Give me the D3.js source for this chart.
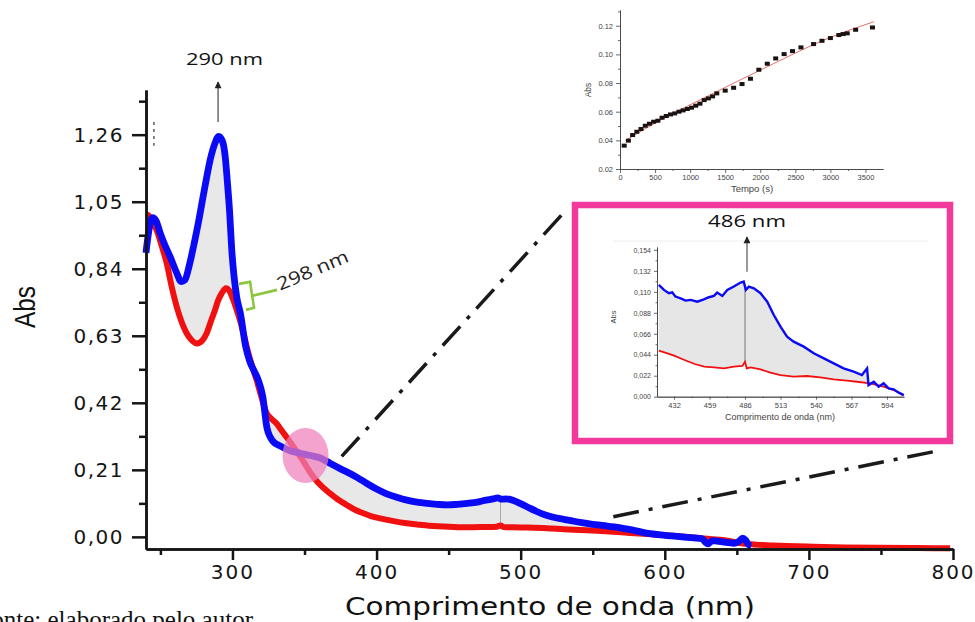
<!DOCTYPE html>
<html lang="pt">
<head>
<meta charset="UTF-8">
<title>Espectro UV-Vis</title>
<script src="https://cdn.jsdelivr.net/npm/d3@7"></script>
<style>
  body { margin: 0; background: #fff; }
  svg { display: block; }
</style>
</head>
<body>
<div id="chart"></div>
<script>

// ---- main spectrum (nm, Abs) ----
var blueWl = [240,242,244.5,247,250,253,257,261,264.5,267,270,273,277,281,285,288,290.5,293,295,296.5,298,299.5,301,303,305.5,309,312,315,318,321,324,328,333,340,347,354,361,368,375,380,387,393,400,407,414,421,428,435,442,449,456,463,470,476,481,484,487,490,495,500,505,510,515,522,530,537,545,552,560,565,572,578,584,590,597,605,612,620,626,628,630,633,640,648,652,654,656,658,660];
var blueAbs = [0.89,0.96,1.00,0.99,0.95,0.915,0.875,0.83,0.80,0.805,0.85,0.91,1.00,1.10,1.19,1.235,1.255,1.24,1.19,1.11,1.02,0.90,0.82,0.75,0.70,0.60,0.55,0.52,0.49,0.44,0.34,0.30,0.285,0.27,0.262,0.255,0.247,0.23,0.213,0.202,0.185,0.168,0.150,0.135,0.124,0.115,0.109,0.105,0.102,0.100,0.102,0.105,0.109,0.115,0.119,0.122,0.118,0.119,0.114,0.104,0.093,0.082,0.072,0.062,0.055,0.049,0.043,0.038,0.034,0.031,0.026,0.021,0.015,0.010,0.006,0.003,0.000,-0.003,-0.006,-0.016,-0.022,-0.012,-0.016,-0.020,-0.012,-0.004,-0.010,-0.024,-0.028];
var redWl = [240,241.6,244,247.4,251,254.4,258,261.3,265,268.2,272,275.2,279,282.1,285,287.9,290,292.5,295.5,298,300.6,303,305.2,307.5,309.9,312,314.5,316.8,320,323.8,327,330.7,333,338,343,348,356.1,362,367.7,373,379.3,385,390.8,396,402.4,411,420.9,430,439.4,450,462.6,475,483.4,486,488,494.9,505,518,530,541.2,553,564.3,576,587.5,600,612,625,640,657,675,703,725,749,775,798];
var redAbs = [1.01,1.008,0.99,0.961,0.91,0.857,0.78,0.721,0.67,0.638,0.615,0.606,0.615,0.638,0.675,0.711,0.74,0.763,0.779,0.77,0.742,0.71,0.679,0.64,0.596,0.56,0.523,0.491,0.44,0.387,0.37,0.355,0.34,0.31,0.278,0.245,0.188,0.158,0.1365,0.118,0.100,0.085,0.0738,0.065,0.058,0.050,0.0425,0.038,0.034,0.032,0.030,0.031,0.032,0.036,0.031,0.030,0.029,0.027,0.024,0.0215,0.019,0.016,0.012,0.009,0.005,0.001,-0.004,-0.010,-0.022,-0.027,-0.031,-0.033,-0.034,-0.035,-0.036];

// ---- zoomed spectrum 420-607 nm ----
var zBlueWl = [420.4,424.3,428,430.6,433,437,440.8,444.6,449.6,454.7,458.5,462.3,464.8,468.7,472.5,477.5,482.6,485,486.6,488.9,492.7,497.8,502.9,507.9,513,518,523,530.7,538.3,546,553.5,561,568.7,575,578.9,580,584,587.7,591.5,595.3,599.1,603,606.8];
var zBlueAbs = [0.1172,0.112,0.1085,0.1095,0.105,0.1032,0.1008,0.1015,0.0997,0.102,0.1043,0.1057,0.1092,0.1057,0.112,0.1155,0.1197,0.1207,0.112,0.1155,0.1137,0.1085,0.0997,0.0857,0.0735,0.063,0.0577,0.0525,0.0455,0.0402,0.035,0.0297,0.0262,0.0227,0.0297,0.0122,0.0157,0.0105,0.014,0.0087,0.0077,0.0042,0.0017];
var zRedWl = [420.4,427,432,440,447.7,455,462.3,470,477.5,484,486,487.3,490.3,497.8,505.4,513,523,533.2,543.3,553.5,563.6,571.2,581.3,591.5,599.1,606.8];
var zRedAbs = [0.0483,0.0455,0.043,0.0385,0.0343,0.0315,0.0308,0.0297,0.0315,0.0322,0.0367,0.0297,0.0308,0.0287,0.0252,0.0227,0.021,0.0217,0.0203,0.0182,0.0168,0.0157,0.014,0.0105,0.007,0.0017];

// ---- kinetics at 486 nm ----
var kinT = [60,120,180,240,300,360,420,480,540,600,660,720,780,840,900,960,1020,1080,1140,1200,1260,1320,1380,1500,1620,1740,1860,1980,2100,2220,2340,2460,2580,2760,2880,3000,3120,3180,3240,3360,3600];
var kinAbs = [0.0363,0.0398,0.0437,0.046,0.0479,0.0502,0.0516,0.053,0.0537,0.0558,0.057,0.0581,0.0588,0.060,0.0609,0.0619,0.0628,0.0642,0.0656,0.0681,0.0693,0.0707,0.0728,0.0747,0.0767,0.0793,0.083,0.0893,0.0935,0.0972,0.1002,0.1023,0.1049,0.1072,0.1095,0.1114,0.1135,0.1142,0.1147,0.1172,0.1188];
var fitT = [80,560,1280,2000,3000,3620];
var fitAbs = [0.040,0.0537,0.0716,0.089,0.1119,0.1228];

// ---- ticks ----
var mainYTicks = [0,0.21,0.42,0.63,0.84,1.05,1.26];
var mainYMinor = [0.105,0.315,0.525,0.735,0.945,1.155,1.365];
var mainXTicks = [300,400,500,600,700,800];
var mainXMinor = [250,350,450,550,650,750];
var kinYTicks = [0.02,0.04,0.06,0.08,0.10,0.12];
var kinYMinor = [0.03,0.05,0.07,0.09,0.11,0.13];
var kinXTicks = [0,500,1000,1500,2000,2500,3000,3500];
var kinXMinor = [250,750,1250,1750,2250,2750,3250];
var zYTicks = [0,0.022,0.044,0.066,0.088,0.110,0.132,0.154];
var zYMinor = [0.011,0.033,0.055,0.077,0.099,0.121,0.143];
var zXTicks = [432,459,486,513,540,567,594];
var zXMinor = [445.5,472.5,499.5,526.5,553.5,580.5];

var zip = function(a, b) { return a.map(function(v, i) { return [v, b[i]]; }); };
var comma = d3.formatLocale({decimal: ",", thousands: ".", grouping: [3], currency: ["", ""]});

var svg = d3.select("#chart").append("svg")
    .attr("width", 975)
    .attr("height", 622);

// arrow head: points along the line direction
svg.append("defs").append("marker")
    .attr("id", "arr")
    .attr("viewBox", "0 0 10 10")
    .attr("refX", 9).attr("refY", 5)
    .attr("markerWidth", 8).attr("markerHeight", 7)
    .attr("markerUnits", "userSpaceOnUse")
    .attr("orient", "auto")
  .append("path")
    .attr("d", "M0,0 L10,5 L0,10 Z")
    .attr("fill", "#222");

function styleAxis(g, color, sw, size, family) {
  g.attr("font-size", size).attr("font-family", family);
  g.select(".domain").attr("stroke", color).attr("stroke-width", sw);
  g.selectAll(".tick line").attr("stroke", color).attr("stroke-width", sw);
  g.selectAll(".tick text").attr("fill", color);
}

// ================= main chart =================
var x = d3.scaleLinear().domain([240, 800]).range([146, 953]);
var y = d3.scaleLinear().domain([-0.038, 1.40]).range([549, 90]);

var blue = zip(blueWl, blueAbs);
var red = zip(redWl, redAbs);
var mainLine = d3.line().x(function(d) { return x(d[0]); }).y(function(d) { return y(d[1]); }).curve(d3.curveMonotoneX);
var flatLine = d3.line().x(function(d) { return x(d[0]); }).y(function(d) { return y(d[1]); });

// grey band of intermediate spectra
var band = blue.concat(red.filter(function(d) { return d[0] <= 660; }).reverse());
svg.append("path")
    .attr("d", flatLine(band) + "Z")
    .attr("fill", "#e8e8e8")
    .attr("stroke", "none");
svg.append("line")
    .attr("x1", x(486)).attr("x2", x(486))
    .attr("y1", y(0.036)).attr("y2", y(0.118))
    .attr("stroke", "#999").attr("stroke-width", 0.8);

svg.append("path")
    .attr("d", mainLine(red))
    .attr("fill", "none")
    .attr("stroke", "#f01010")
    .attr("stroke-width", 6)
    .attr("stroke-linejoin", "round");

svg.append("path")
    .attr("d", mainLine(blue))
    .attr("fill", "none")
    .attr("stroke", "#0a0af5")
    .attr("stroke-width", 6.8)
    .attr("stroke-linejoin", "round");

// pink highlight circle
svg.append("ellipse")
    .attr("cx", x(350.7)).attr("cy", y(0.255))
    .attr("rx", 23).attr("ry", 27.5)
    .attr("fill", "#ef7fba")
    .attr("opacity", 0.72);

// axes
var gy = svg.append("g").attr("transform", "translate(146,0)")
    .call(d3.axisLeft(y).tickValues(mainYTicks).tickSize(14).tickSizeOuter(0).tickPadding(8)
      .tickFormat(comma.format(".2f")));
styleAxis(gy, "#151515", 2.5, 20, "DejaVu Sans");
gy.selectAll(".tick text").attr("letter-spacing", "1.5px");
var gy2 = svg.append("g").attr("transform", "translate(146,0)")
    .call(d3.axisLeft(y).tickValues(mainYMinor).tickSize(7).tickSizeOuter(0).tickFormat(""));
styleAxis(gy2, "#151515", 2.5, 20, "DejaVu Sans");

var gx = svg.append("g").attr("transform", "translate(0,549)")
    .call(d3.axisBottom(x).tickValues(mainXTicks).tickSize(11).tickSizeOuter(0).tickPadding(5)
      .tickFormat(d3.format("d")));
styleAxis(gx, "#151515", 2.5, 20, "DejaVu Sans");
gx.selectAll(".tick text").attr("letter-spacing", "2px");
var gx2 = svg.append("g").attr("transform", "translate(0,549)")
    .call(d3.axisBottom(x).tickValues(mainXMinor).tickSize(6).tickSizeOuter(0).tickFormat(""));
styleAxis(gx2, "#151515", 2.5, 20, "DejaVu Sans");

svg.append("text")
    .attr("transform", "translate(35,307) rotate(-90)")
    .attr("text-anchor", "middle")
    .attr("font-family", "Liberation Sans")
    .attr("font-size", 30)
    .attr("textLength", 42)
    .attr("lengthAdjust", "spacingAndGlyphs")
    .attr("fill", "#111")
    .text("Abs");

svg.append("text")
    .attr("x", 345).attr("y", 615)
    .attr("font-family", "DejaVu Sans")
    .attr("font-size", 24)
    .attr("textLength", 410)
    .attr("lengthAdjust", "spacingAndGlyphs")
    .attr("fill", "#111")
    .text("Comprimento de onda (nm)");

// small dotted mark near the left edge
svg.append("line")
    .attr("x1", x(245.5)).attr("x2", x(245.5))
    .attr("y1", y(1.30)).attr("y2", y(1.225))
    .attr("stroke", "#666").attr("stroke-width", 1.6)
    .attr("stroke-dasharray", "3,4");

// 290 nm annotation
svg.append("line")
    .attr("x1", x(290)).attr("x2", x(290))
    .attr("y1", y(1.30)).attr("y2", y(1.425))
    .attr("stroke", "#333").attr("stroke-width", 1.1)
    .attr("marker-end", "url(#arr)");
svg.append("text")
    .attr("x", 186).attr("y", 65)
    .attr("font-family", "Open Sans")
    .attr("font-size", 17)
    .attr("textLength", 77)
    .attr("lengthAdjust", "spacingAndGlyphs")
    .attr("fill", "#111")
    .text("290 nm");

// 298 nm bracket
var bx = x(312.2), by = y(0.755);
svg.append("path")
    .attr("d", "M" + (bx - 11) + "," + (by - 12) + " L" + bx + "," + (by - 14) +
               " L" + (bx + 4) + "," + (by + 12) + " L" + (bx - 4) + "," + (by + 14) +
               " M" + (bx + 2) + "," + by + " L" + (bx + 27) + "," + (by - 6))
    .attr("fill", "none")
    .attr("stroke", "#8dc63f")
    .attr("stroke-width", 2.6);
svg.append("text")
    .attr("transform", "translate(315,276) rotate(-23)")
    .attr("text-anchor", "middle")
    .attr("font-family", "Open Sans")
    .attr("font-size", 18)
    .attr("textLength", 76)
    .attr("lengthAdjust", "spacingAndGlyphs")
    .attr("fill", "#222")
    .text("298 nm");

// dash-dot leader lines
var dash = "26,10,4,10";
svg.append("line")
    .attr("x1", x(375.8)).attr("y1", y(0.252))
    .attr("x2", 568).attr("y2", 208)
    .attr("stroke", "#1a1a1a").attr("stroke-width", 3.5)
    .attr("stroke-dasharray", dash);
svg.append("line")
    .attr("x1", x(564.3)).attr("y1", y(0.063))
    .attr("x2", 942).attr("y2", 450)
    .attr("stroke", "#1a1a1a").attr("stroke-width", 3.5)
    .attr("stroke-dasharray", dash);

// ================= zoom inset (pink frame) =================
svg.append("rect")
    .attr("x", 575).attr("y", 205)
    .attr("width", 375).attr("height", 236)
    .attr("fill", "#fff")
    .attr("stroke", "#f33a9c")
    .attr("stroke-width", 6.5);

var xZ = d3.scaleLinear().domain([419, 607]).range([657, 904]);
var yZ = d3.scaleLinear().domain([0, 0.157]).range([396.7, 247]);
var zLine = d3.line().x(function(d) { return xZ(d[0]); }).y(function(d) { return yZ(d[1]); });
var zb = zip(zBlueWl, zBlueAbs);
var zr = zip(zRedWl, zRedAbs);

svg.append("line")
    .attr("x1", 613).attr("x2", 928).attr("y1", 241).attr("y2", 241)
    .attr("stroke", "#eeeeee").attr("stroke-width", 1);

svg.append("path")
    .attr("d", zLine(zb.concat(zr.slice().reverse())) + "Z")
    .attr("fill", "#e6e6e6");
svg.append("line")
    .attr("x1", xZ(486)).attr("x2", xZ(486))
    .attr("y1", yZ(0.0367)).attr("y2", yZ(0.118))
    .attr("stroke", "#777").attr("stroke-width", 1);
svg.append("path")
    .attr("d", zLine(zr))
    .attr("fill", "none").attr("stroke", "#f01010").attr("stroke-width", 1.8);
svg.append("path")
    .attr("d", zLine(zb))
    .attr("fill", "none").attr("stroke", "#0a0af5").attr("stroke-width", 2.4);

var gzy = svg.append("g").attr("transform", "translate(657,0)")
    .call(d3.axisLeft(yZ).tickValues(zYTicks).tickSize(3).tickSizeOuter(0).tickPadding(3)
      .tickFormat(comma.format(".3f")));
styleAxis(gzy, "#444", 0.8, 7, "Liberation Sans");
var gzy2 = svg.append("g").attr("transform", "translate(657,0)")
    .call(d3.axisLeft(yZ).tickValues(zYMinor).tickSize(1.5).tickSizeOuter(0).tickFormat(""));
styleAxis(gzy2, "#444", 0.8, 7, "Liberation Sans");
var gzx = svg.append("g").attr("transform", "translate(0,396.7)")
    .call(d3.axisBottom(xZ).tickValues(zXTicks).tickSize(3).tickSizeOuter(0).tickPadding(3)
      .tickFormat(d3.format("d")));
styleAxis(gzx, "#444", 0.8, 7.5, "Liberation Sans");
var gzx2 = svg.append("g").attr("transform", "translate(0,396.7)")
    .call(d3.axisBottom(xZ).tickValues(zXMinor).tickSize(1.5).tickSizeOuter(0).tickFormat(""));
styleAxis(gzx2, "#444", 0.8, 7.5, "Liberation Sans");

svg.append("text")
    .attr("x", 780).attr("y", 420)
    .attr("text-anchor", "middle")
    .attr("font-family", "Liberation Sans")
    .attr("font-size", 9)
    .attr("fill", "#444")
    .text("Comprimento de onda (nm)");
svg.append("text")
    .attr("transform", "translate(616,317) rotate(-90)")
    .attr("text-anchor", "middle")
    .attr("font-family", "Liberation Sans")
    .attr("font-size", 7.5)
    .attr("fill", "#444")
    .text("Abs");

svg.append("line")
    .attr("x1", xZ(487.5)).attr("x2", xZ(487.5))
    .attr("y1", yZ(0.131)).attr("y2", yZ(0.1675))
    .attr("stroke", "#333").attr("stroke-width", 1)
    .attr("marker-end", "url(#arr)");
svg.append("text")
    .attr("x", 708).attr("y", 227)
    .attr("font-family", "Open Sans")
    .attr("font-size", 16.5)
    .attr("textLength", 78)
    .attr("lengthAdjust", "spacingAndGlyphs")
    .attr("fill", "#111")
    .text("486 nm");

// ================= kinetics inset =================
var xK = d3.scaleLinear().domain([0, 3750]).range([620, 883]);
var yK = d3.scaleLinear().domain([0.02, 0.131]).range([169, 10]);

var gky = svg.append("g").attr("transform", "translate(620,0)")
    .call(d3.axisLeft(yK).tickValues(kinYTicks).tickSize(4).tickSizeOuter(0).tickPadding(3)
      .tickFormat(d3.format(".2f")));
styleAxis(gky, "#444", 0.8, 7.5, "Liberation Sans");
var gky2 = svg.append("g").attr("transform", "translate(620,0)")
    .call(d3.axisLeft(yK).tickValues(kinYMinor).tickSize(2).tickSizeOuter(0).tickFormat(""));
styleAxis(gky2, "#444", 0.8, 7.5, "Liberation Sans");
var gkx = svg.append("g").attr("transform", "translate(0,169)")
    .call(d3.axisBottom(xK).tickValues(kinXTicks).tickSize(4).tickSizeOuter(0).tickPadding(2)
      .tickFormat(d3.format("d")));
styleAxis(gkx, "#444", 0.8, 7.5, "Liberation Sans");
var gkx2 = svg.append("g").attr("transform", "translate(0,169)")
    .call(d3.axisBottom(xK).tickValues(kinXMinor).tickSize(2).tickSizeOuter(0).tickFormat(""));
styleAxis(gkx2, "#444", 0.8, 7.5, "Liberation Sans");

svg.append("path")
    .attr("d", d3.line().x(function(d) { return xK(d[0]); }).y(function(d) { return yK(d[1]); })
      .curve(d3.curveMonotoneX)(zip(fitT, fitAbs)))
    .attr("fill", "none")
    .attr("stroke", "#e0605a")
    .attr("stroke-width", 0.9);

svg.append("g").selectAll("rect")
    .data(zip(kinT, kinAbs))
    .enter().append("rect")
    .attr("x", function(d) { return xK(d[0]) - 2.5; })
    .attr("y", function(d) { return yK(d[1]) - 2; })
    .attr("width", 5).attr("height", 4)
    .attr("fill", "#1a1111");

svg.append("text")
    .attr("x", 752).attr("y", 192)
    .attr("text-anchor", "middle")
    .attr("font-family", "Liberation Sans")
    .attr("font-size", 9.5)
    .attr("fill", "#444")
    .text("Tempo (s)");
svg.append("text")
    .attr("transform", "translate(591,90) rotate(-90)")
    .attr("text-anchor", "middle")
    .attr("font-family", "Liberation Sans")
    .attr("font-size", 8.5)
    .attr("fill", "#444")
    .text("Abs");

// source caption, clipped at the left edge as in the original page
svg.append("text")
    .attr("x", 253).attr("y", 628)
    .attr("text-anchor", "end")
    .attr("font-family", "Liberation Serif")
    .attr("font-size", 25)
    .attr("fill", "#111")
    .text("Fonte: elaborado pelo autor");

</script>
</body>
</html>
